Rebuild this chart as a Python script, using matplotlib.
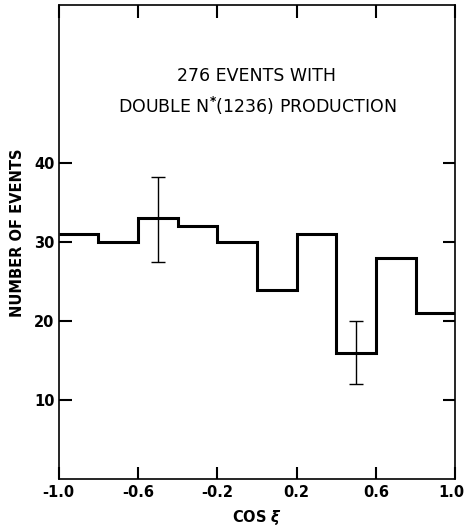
import matplotlib
matplotlib.use("Agg")
import matplotlib.pyplot as plt
import matplotlib.transforms as mtransforms
import numpy as np

bin_edges = [-1.0, -0.8, -0.6, -0.4, -0.2, 0.0, 0.2, 0.4, 0.6, 0.8, 1.0]
counts = [31, 30, 33, 32, 30, 24, 31, 16, 28, 21]
err_x = [-0.5, 0.5]
err_y = [33, 16]
err_lo = [5.5, 4.0]
err_hi = [5.3, 4.0]
xtick_vals = [-1.0, -0.6, -0.2, 0.2, 0.6, 1.0]
xtick_labels = ["-1.0", "-0.6", "-0.2", "0.2", "0.6", "1.0"]
ytick_vals = [10, 20, 30, 40]
ytick_labels = ["10", "20", "30", "40"]

plt.rcParams['font.family'] = ['DejaVu Sans']
fig = plt.figure(figsize=(4.65, 5.31), dpi=100)
ax = fig.add_axes([0.126, 0.098, 0.853, 0.892])

ax.stairs(counts, bin_edges, baseline=None, color='black', linewidth=2.2)
ax.errorbar(err_x, err_y, yerr=[err_lo, err_hi], fmt='none', ecolor='black',
            elinewidth=1.0, capsize=5, capthick=1.0)

ax.set_xlim(-1.0, 1.0)
ax.set_ylim(0, 60)
ax.set_xticks(xtick_vals)
ax.set_xticklabels(xtick_labels, fontsize=10.5, fontweight='bold')
ax.set_yticks(ytick_vals)
ax.set_yticklabels(ytick_labels, fontsize=10.5, fontweight='bold')
ax.tick_params(direction='in', length=9, width=1.5, top=True, right=True, pad=4)
ax.tick_params(axis='y', labelleft=True, labelright=False, pad=3)
for s in ax.spines.values():
    s.set_linewidth(1.2)

# nudge the outermost x tick label inward so it stays inside the figure
lbls = ax.get_xticklabels()
lbls[-1].set_transform(lbls[-1].get_transform() +
                       mtransforms.ScaledTranslation(-4 / 100, 0, fig.dpi_scale_trans))

ax.set_xlabel("COS $\\boldsymbol{\\xi}$", fontsize=10.5, fontweight='bold', labelpad=6)
ax.set_ylabel("NUMBER OF EVENTS", fontsize=10.5, fontweight='bold')
ax.yaxis.set_label_coords(-0.085, 0.52)

ax.text(0.0, 51.1, "276 EVENTS WITH", ha='center', va='center', fontsize=12.5)
ax.text(0.0, 47.3, "DOUBLE N$^{\\mathbf{*}}$(1236) PRODUCTION", ha='center', va='center', fontsize=12.5)

fig.savefig("out.png", dpi=100)
